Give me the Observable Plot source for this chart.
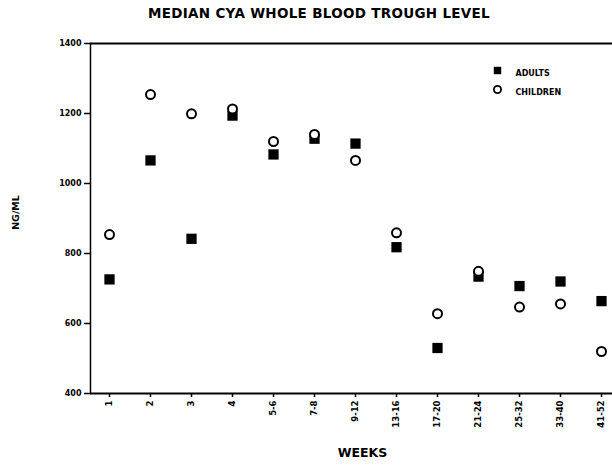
<!DOCTYPE html>
<html><head><meta charset="utf-8">
<script src="https://cdn.jsdelivr.net/npm/d3@7"></script>
<script src="https://cdn.jsdelivr.net/npm/@observablehq/plot@0.6"></script>
<style>
body{margin:0;background:#fff;}
#title{height:30px;line-height:30px;text-align:center;font:bold 13.5px "DejaVu Sans",sans-serif;color:#000;padding-left:26px;letter-spacing:0.3px;box-sizing:border-box;width:612px;position:relative;top:5px;}
#chart svg{display:block;}
</style></head>
<body>
<div id="title">MEDIAN CYA WHOLE BLOOD TROUGH LEVEL</div>
<div id="chart"></div>
<script>
const weeks = ["1","2","3","4","5-6","7-8","9-12","13-16","17-20","21-24","25-32","33-40","41-52"];
const adults = [726,1066,842,1194,1083,1128,1114,818,530,734,707,720,664];
const children = [854,1254,1199,1213,1120,1140,1066,859,628,749,647,656,520];
const yTicks = [400,600,800,1000,1200,1400];

const adultData = weeks.map((w,i)=>({week:w, value:adults[i]}));
const childData = weeks.map((w,i)=>({week:w, value:children[i]}));

const font = "DejaVu Sans, sans-serif";
const chart = Plot.plot({
  width: 612, height: 436,
  marginLeft: 90, marginRight: 0, marginTop: 13, marginBottom: 73,
  style: {fontFamily: font, fontWeight: "bold", color: "#000", background: "#fff"},
  x: {type: "point", domain: weeks, padding: 0, insetLeft: 18, insetRight: 11, axis: null},
  y: {domain: [400, 1400], axis: null},
  marks: [
    Plot.ruleY([400, 1400], {stroke: "#000", strokeWidth: 2}),
    Plot.frame({anchor: "left", stroke: "#000", strokeWidth: 1.5}),
    Plot.axisY({ticks: yTicks, tickFormat: d3.format("d"), tickSize: 6, tickPadding: 3, fontSize: 8, fontWeight: "bold", label: null, strokeWidth: 1.5}),
    Plot.axisX({tickSize: 4, tickPadding: 3, tickRotate: -90, fontSize: 8.5, fontWeight: "bold", label: null, strokeWidth: 1.5}),
    Plot.text(["NG/ML"], {frameAnchor: "left", textAnchor: "middle", dx: -75, dy: -6, rotate: -90, fontSize: 9.5, fontWeight: "bold"}),
    Plot.text(["WEEKS"], {frameAnchor: "bottom", dx: 11, dy: 63, fontSize: 12.5, fontWeight: "bold"}),
    Plot.dot(adultData, {x: "week", y: "value", symbol: "square", r: 5.8, fill: "#000", stroke: "none"}),
    Plot.dot(childData, {x: "week", y: "value", symbol: "circle", r: 4.5, stroke: "#000", strokeWidth: 2, fill: "#fff"}),
    Plot.dot([0], {frameAnchor: "top-right", dx: -115, dy: 27, symbol: "square", r: 4.2, fill: "#000"}),
    Plot.text(["ADULTS"], {frameAnchor: "top-right", dx: -97, dy: 27, textAnchor: "start", fontSize: 8, fontWeight: "bold"}),
    Plot.dot([0], {frameAnchor: "top-right", dx: -115, dy: 46, symbol: "circle", r: 3.6, stroke: "#000", strokeWidth: 1.8, fill: "#fff"}),
    Plot.text(["CHILDREN"], {frameAnchor: "top-right", dx: -97, dy: 46, textAnchor: "start", fontSize: 8, fontWeight: "bold"})
  ]
});
document.getElementById("chart").appendChild(chart);
</script>
</body></html>
